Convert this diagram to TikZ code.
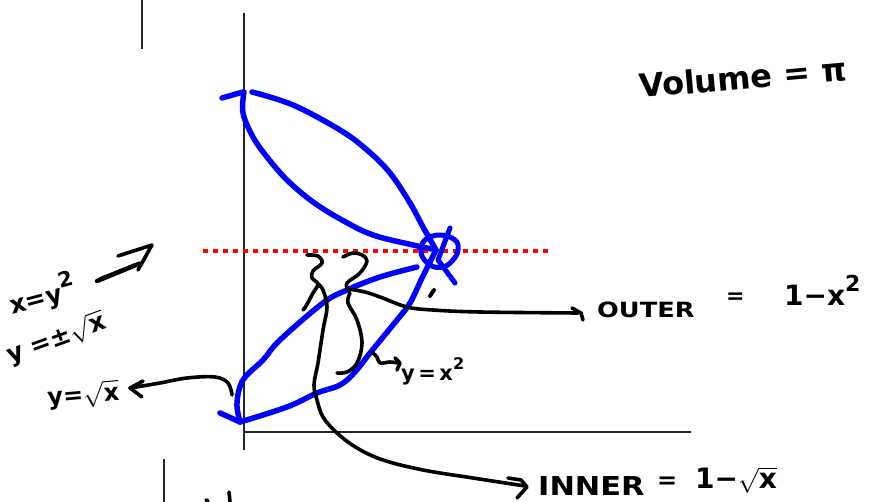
\documentclass[tikz,border=0pt]{standalone}
\usepackage{fontspec}
\setmainfont{DejaVu Sans}
\usetikzlibrary{arrows.meta}
\begin{document}
\begin{tikzpicture}[x=1pt,y=-1pt,
  axis/.style={line width=1.5pt, black!85},
  bluecurve/.style={draw=blue, line width=5.5pt, line cap=round, line join=round},
  ink/.style={draw=black, line width=3.6pt, line cap=round, line join=round},
  hand/.style={inner sep=0pt, anchor=base west, text=black}]
\useasboundingbox (0,0) rectangle (879,502);
% axes and stray strokes
\draw[axis] (142,0) -- (142,49);
\draw[axis] (244,13) -- (244,450);
\draw[axis] (244,432) -- (691,432);
\draw[axis] (164,459) -- (164,502);
\draw[ink] (229,492) -- (230,502);
\draw[ink] (206,500) -- (208,501);
% red dotted line
\draw[red, line width=4.5pt, dash pattern=on 5pt off 5pt] (203,251) -- (548,251);
% upper loop
\draw[bluecurve] (222,98) -- (243,92);
\draw[bluecurve] plot[smooth, tension=0.6] coordinates {(244,92) (243,113) (253,137) (267,157) (287,180) (313,202) (342,220) (373,235) (413,245) (432,249)};
\draw[bluecurve] plot[smooth, tension=0.6] coordinates {(252,92) (293,105) (340,130) (367,150) (390,173) (410,203) (423,227) (436,250)};
% lower loop
\draw[bluecurve] (220,413) -- (240,422);
\draw[bluecurve] plot[smooth, tension=0.6] coordinates {(240,422) (237,403) (243,380) (263,360) (280,340) (323,303) (347,290) (380,277) (417,267)};
\draw[bluecurve] plot[smooth, tension=0.6] coordinates {(240,422) (287,407) (317,393) (340,385) (355,372) (370,353) (397,320) (410,303) (422,278) (436,250)};
% knot
\draw[bluecurve, line width=5pt] plot[smooth cycle, tension=0.7] coordinates {(421,253) (425,240) (440,235) (455,240) (458,250) (453,260) (443,267) (430,265)};
\draw[bluecurve, line width=5pt] (450,228) -- (438,260) -- (455,283);
% black dot
\draw[ink, line width=4pt] (430,296) -- (434,290);
% arrow near x=y^2
\draw[ink, line width=4.5pt] (97,281) -- (136,265);
\draw[ink] (100,279) -- (140,263);
\draw[ink] (118,256) -- (152,245) -- (138,270);
% arrow to y = sqrt x
\coordinate (tipA) at (130,388);
\draw[ink] plot[smooth, tension=0.6] coordinates {(232,395) (228,383) (215,377) (187,378) (160,383) (tipA)};
\draw[ink] (143,381) -- (tipA) -- (142,397);
% brace 1 and connector to INNER
\draw[ink] plot[smooth, tension=0.6] coordinates {(307,255) (318,256) (322,263) (313,271) (312,278) (318,284) (313,293) (306,306) (303,310)};
\coordinate (tipI) at (525,486);
\draw[ink] plot[smooth, tension=0.6] coordinates {(318,284) (323,290) (327,307) (323,330) (318,363) (314,385) (317,400) (323,417) (337,433) (357,448) (383,460) (423,470) (473,478) (tipI)};
\draw[ink] (508,478) -- (521,480) -- (527,487) -- (517,498);
% brace 2 and connector to OUTER
\draw[ink] plot[smooth, tension=0.6] coordinates {(343,257) (353,253) (362,255) (367,261) (360,273) (347,283) (348,290)};
\coordinate (tipO) at (578,313);
\draw[ink] plot[smooth, tension=0.6] coordinates {(348,289) (365,292) (380,297) (407,307) (433,310) (480,312) (tipO)};
\draw[ink] (572,308) -- (581,313) -- (583,320);
\draw[ink] plot[smooth, tension=0.6] coordinates {(350,293) (348,303) (357,320) (362,343) (357,363) (347,372) (337,373)};
% arrow to y = x^2
\draw[ink] plot[smooth, tension=0.6] coordinates {(372,352) (377,357) (380,363) (390,362) (398,363)};
\draw[ink] (395,358) -- (400,363) -- (397,370);
% texts
\node[hand, font=\fontsize{32}{32}\selectfont\bfseries, rotate=5] (vol) at (640,98) {Volume = π};
\node[hand, font=\fontsize{21}{21}\selectfont\bfseries] (outer) at (597,318) {\scalebox{1.22}[1]{OUTER}};
\node[hand, font=\fontsize{22}{22}\selectfont\bfseries] (outereq) at (726,304) {=};
\node[hand, font=\fontsize{28}{28}\selectfont\bfseries] (outerexpr) at (784,306) {1−x\raisebox{14pt}{\fontsize{22}{22}\selectfont 2}};
\node[hand, font=\fontsize{26}{26}\selectfont\bfseries] (inner) at (538,496) {\scalebox{1.17}[1]{INNER}};
\node[hand, font=\fontsize{24}{24}\selectfont\bfseries] (innereq) at (657,489) {=};
\node[hand, font=\fontsize{28}{28}\selectfont\bfseries] (innerexpr) at (695,489) {1−$\sqrt{\mbox{x}}$};
\node[hand, font=\fontsize{21}{21}\selectfont\bfseries] (yx2) at (401,381) {y\,=\,x\raisebox{11pt}{\fontsize{16}{16}\selectfont 2}};
\node[hand, font=\fontsize{25}{25}\selectfont\bfseries, rotate=15] (xy2) at (12,315) {x=y\raisebox{13pt}{\fontsize{21}{21}\selectfont 2}};
\node[hand, font=\fontsize{25}{25}\selectfont\bfseries, rotate=20] (ypm) at (10,364) {y =±$\sqrt{\mbox{x}}$};
\node[hand, font=\fontsize{24}{24}\selectfont\bfseries, rotate=5] (ysq) at (48,406) {y=$\sqrt{\mbox{x}}$};
\end{tikzpicture}
\end{document}
